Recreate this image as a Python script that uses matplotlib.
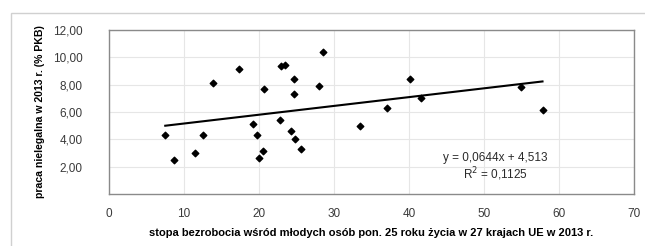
import matplotlib
matplotlib.use("Agg")
import matplotlib.pyplot as plt
from matplotlib.patches import Rectangle
from matplotlib.ticker import FuncFormatter
import numpy as np

# youth unemployment (%) vs shadow economy (% GDP), EU-27, 2013
unemployment = [7.5, 8.7, 11.4, 12.5, 13.8, 17.3, 20.6, 19.2, 19.7, 20.5,
                20.0, 22.8, 22.9, 23.4, 24.2, 24.7, 24.7, 24.8, 25.6, 28.0,
                28.5, 33.4, 37.0, 40.1, 41.6, 54.9, 57.8]
shadow = [4.29, 2.51, 3.00, 4.29, 8.10, 9.12, 7.68, 5.12, 4.29, 3.17,
          2.61, 5.44, 9.34, 9.46, 4.61, 8.43, 7.32, 4.05, 3.31, 7.88,
          10.39, 4.97, 6.29, 8.39, 7.00, 7.83, 6.17]
slope = 0.0644
intercept = 4.513
r2 = 0.1125

x_ticks = [0, 10, 20, 30, 40, 50, 60, 70]
y_ticks = [2, 4, 6, 8, 10, 12]
xlabel = "stopa bezrobocia wśród młodych osób pon. 25 roku życia w 27 krajach UE w 2013 r."
ylabel = "praca nielegalna w 2013 r. (% PKB)"

plt.rcParams['font.family'] = ['Liberation Sans', 'DejaVu Sans']

fig = plt.figure(figsize=(6.45, 2.46), dpi=100)
fig.patches.append(Rectangle((11 / 645, -0.1), 1.0, 1 - 13 / 246 + 0.1,
                             transform=fig.transFigure, fill=False,
                             edgecolor="#d0d0d0", linewidth=1.0))

ax = fig.add_axes([109 / 645, 1 - 194 / 246, 525 / 645, 164 / 246])
ax.set_xlim(0, 70)
ax.set_ylim(0, 12)
ax.set_xticks(x_ticks)
ax.set_yticks(y_ticks)
ax.yaxis.set_major_formatter(FuncFormatter(lambda v, p: f"{v:.2f}".replace(".", ",")))
ax.grid(True, color="#e6e6e6", linewidth=0.8)
ax.set_axisbelow(True)
for s in ax.spines.values():
    s.set_color("#8a8a8a")
    s.set_linewidth(1.0)
ax.tick_params(length=0, labelsize=8.5, colors="#3a3a3a")
ax.tick_params(axis="x", pad=10)
ax.tick_params(axis="y", pad=19)

ax.scatter(unemployment, shadow, marker="D", s=11, color="black", zorder=3)

xs = np.array([min(unemployment), max(unemployment)])
ax.plot(xs, slope * xs + intercept, color="black", linewidth=1.5, zorder=2)

ax.text(51.5, 2.63, f"y = {slope:.4f}x + {intercept:.3f}".replace(".", ","),
        ha="center", va="center", fontsize=8.5, color="#2a2a2a")
ax.text(51.5, 1.46, f"R$^2$ = {r2:.4f}".replace(".", ","),
        ha="center", va="center", fontsize=8.5, color="#2a2a2a")

ax.set_xlabel(xlabel, fontsize=8, fontweight="bold", labelpad=6)
ax.set_ylabel(ylabel, fontsize=7.6, fontweight="bold", labelpad=6)

fig.savefig("out.png", dpi=100)
